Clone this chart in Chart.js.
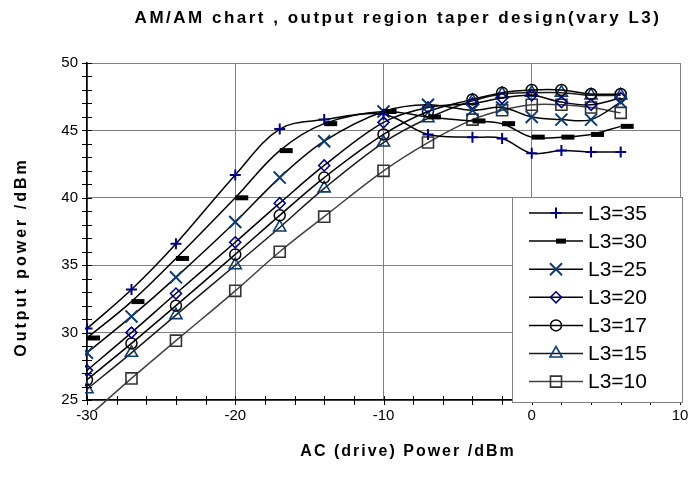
<!DOCTYPE html>
<html>
<head>
<meta charset="utf-8">
<script src="https://cdn.jsdelivr.net/npm/chart.js@4/dist/chart.umd.min.js"></script>
<style>
  html, body { margin: 0; padding: 0; background: #fff; }
  canvas { display: block; }
</style>
</head>
<body>
<canvas id="c" width="693" height="490"></canvas>
<script>
// Drive power sweep (dBm) and measured output power (dBm) for each L3 value
const drivePower = [-30, -27, -24, -20, -17, -14, -10, -7, -4, -2, 0, 2, 4, 6];

const outL35 = [30.3, 33.2, 36.6, 41.7, 45.1, 45.8, 46.2, 44.7, 44.5, 44.4, 43.3, 43.5, 43.4, 43.4];
const outL30 = [29.6, 32.3, 35.5, 40.0, 43.5, 45.5, 46.4, 46.0, 45.7, 45.5, 44.5, 44.5, 44.7, 45.3];
const outL25 = [28.5, 31.2, 34.1, 38.2, 41.5, 44.2, 46.4, 46.9, 46.5, 46.7, 46.0, 45.8, 45.8, 47.1];
const outL20 = [27.2, 30.0, 32.9, 36.7, 39.6, 42.4, 45.6, 46.7, 47.0, 47.4, 47.6, 47.1, 46.9, 47.4];
const outL17 = [26.5, 29.2, 32.0, 35.8, 38.7, 41.5, 44.7, 46.4, 47.3, 47.8, 48.0, 48.0, 47.7, 47.7];
const outL15 = [25.8, 28.5, 31.3, 35.0, 37.8, 40.7, 44.1, 45.9, 47.2, 47.7, 47.8, 47.8, 47.6, 47.6];
const outL10 = [23.7, 26.6, 29.4, 33.1, 36.0, 38.6, 42.0, 44.1, 45.8, 46.5, 46.9, 46.9, 46.7, 46.3];

const seriesNames = ['L3=35', 'L3=30', 'L3=25', 'L3=20', 'L3=17', 'L3=15', 'L3=10'];

const xTickValues = [-30, -20, -10, 0, 10];
const yTickValues = [25, 30, 35, 40, 45, 50];

const titleText = 'AM/AM chart , output region taper design(vary L3)';
const xTitleText = 'AC (drive) Power /dBm';
const yTitleText = 'Output power /dBm';

const FONT = '"Liberation Sans", Arial, Helvetica, sans-serif';

// marker / line styling per series
const styles = [
  { pointStyle: 'cross',    radius: 5.5, color: '#000080', line: '#000000', bw: 2 },
  { pointStyle: 'dash',     radius: 13,  color: '#000000', line: '#000000', bw: 5 },
  { pointStyle: 'crossRot', radius: 8.5, color: '#0d3b6e', line: '#000000', bw: 2 },
  { pointStyle: 'rectRot',  radius: 5.5, color: '#000080', line: '#000000', bw: 1.6 },
  { pointStyle: 'circle',   radius: 5.5, color: '#000000', line: '#000000', bw: 1.5 },
  { pointStyle: 'triangle', radius: 7,   color: '#0d3b6e', line: '#1a1a1a', bw: 1.6 },
  { pointStyle: 'rect',     radius: 7.8, color: '#333333', line: '#404040', bw: 1.6 }
];

const seriesValues = [outL35, outL30, outL25, outL20, outL17, outL15, outL10];

const datasets = seriesValues.map((vals, i) => {
  const st = styles[i];
  return {
    label: seriesNames[i],
    data: drivePower.map((x, k) => ({ x: x, y: vals[k] })),
    borderColor: st.line,
    borderWidth: 1.5,
    backgroundColor: 'rgba(0,0,0,0)',
    pointStyle: st.pointStyle,
    pointRadius: st.radius,
    pointBorderColor: st.color,
    pointBackgroundColor: 'rgba(0,0,0,0)',
    pointBorderWidth: st.bw,
    tension: 0.35,
    fill: false,
    clip: { left: 2, top: 2, right: 2, bottom: 10 }
  };
});

// extra drawing: title, axis titles, crossing minor ticks, boxed legend
const decorations = {
  id: 'decorations',
  afterDraw(chart) {
    const ctx = chart.ctx;
    const xs = chart.scales.x, ys = chart.scales.y;
    const area = chart.chartArea;
    ctx.save();

    // tick marks crossing the axes
    ctx.strokeStyle = '#000';
    ctx.lineWidth = 1;
    for (let v = 25; v <= 50; v += 1) {
      const py = Math.round(ys.getPixelForValue(v)) + 0.5;
      ctx.beginPath();
      ctx.moveTo(area.left - 5, py);
      ctx.lineTo(area.left + 5, py);
      ctx.stroke();
    }
    for (let v = -30; v <= 10; v += 2) {
      const px = Math.round(xs.getPixelForValue(v)) + 0.5;
      ctx.beginPath();
      ctx.moveTo(px, area.bottom - 4);
      ctx.lineTo(px, area.bottom + 5);
      ctx.stroke();
    }

    // chart title
    ctx.fillStyle = '#000';
    ctx.textAlign = 'center';
    ctx.textBaseline = 'middle';
    ctx.font = 'bold 17px ' + FONT;
    ctx.letterSpacing = '2.5px';
    ctx.fillText(titleText, 398, 18);

    // axis titles
    ctx.font = 'bold 16px ' + FONT;
    ctx.letterSpacing = '2px';
    ctx.fillText(xTitleText, 408, 452);
    ctx.save();
    ctx.translate(22, 257);
    ctx.rotate(-Math.PI / 2);
    ctx.letterSpacing = '3px';
    ctx.fillText(yTitleText, 0, 0);
    ctx.restore();
    ctx.letterSpacing = '0px';

    // legend box
    const lx = 512, ly = 197, lw = 170, lh = 205;
    ctx.fillStyle = '#fff';
    ctx.fillRect(lx, ly, lw, lh);
    ctx.strokeStyle = '#808080';
    ctx.lineWidth = 1;
    ctx.strokeRect(lx + 0.5, ly + 0.5, lw, lh);

    ctx.font = '21px ' + FONT;
    ctx.textAlign = 'left';
    ctx.textBaseline = 'middle';
    chart.data.datasets.forEach((ds, i) => {
      const st = styles[i];
      const y = 213 + i * 28.1;
      ctx.strokeStyle = ds.borderColor;
      ctx.lineWidth = 1.5;
      ctx.beginPath();
      ctx.moveTo(529, y);
      ctx.lineTo(583, y);
      ctx.stroke();
      const r = st.pointStyle === 'dash' ? 10 : st.radius;
      ctx.strokeStyle = st.color;
      ctx.fillStyle = 'rgba(0,0,0,0)';
      ctx.lineWidth = st.bw;
      Chart.helpers.drawPoint(ctx, {
        pointStyle: st.pointStyle, radius: r, borderWidth: st.bw, rotation: 0
      }, 556, y);
      ctx.fillStyle = '#000';
      ctx.fillText(ds.label, 588, y + 1);
    });

    ctx.restore();
  }
};

new Chart(document.getElementById('c'), {
  type: 'line',
  data: { datasets: datasets },
  options: {
    responsive: false,
    animation: false,
    events: [],
    layout: { autoPadding: false, padding: { top: 63, right: 13, left: 0, bottom: 0 } },
    plugins: {
      legend: { display: false },
      title: { display: false },
      tooltip: { enabled: false }
    },
    scales: {
      x: {
        type: 'linear',
        min: -30, max: 10,
        afterBuildTicks: s => { s.ticks = xTickValues.map(v => ({ value: v })); },
        ticks: { color: '#000', font: { family: FONT, size: 15 }, padding: 7, maxRotation: 0 },
        grid: { color: '#808080', lineWidth: 1, drawTicks: false },
        border: { color: '#000', width: 1.5 },
        afterFit: s => { s.height = 90; s.paddingLeft = 0; s.paddingRight = 0; }
      },
      y: {
        type: 'linear',
        min: 25, max: 50,
        afterBuildTicks: s => { s.ticks = yTickValues.map(v => ({ value: v })); },
        ticks: { color: '#000', font: { family: FONT, size: 15 }, padding: 9 },
        grid: { color: '#808080', lineWidth: 1, drawTicks: false },
        border: { color: '#000', width: 1.5 },
        afterFit: s => { s.width = 87; s.paddingTop = 0; s.paddingBottom = 0; }
      }
    }
  },
  plugins: [decorations]
});
</script>
</body>
</html>
